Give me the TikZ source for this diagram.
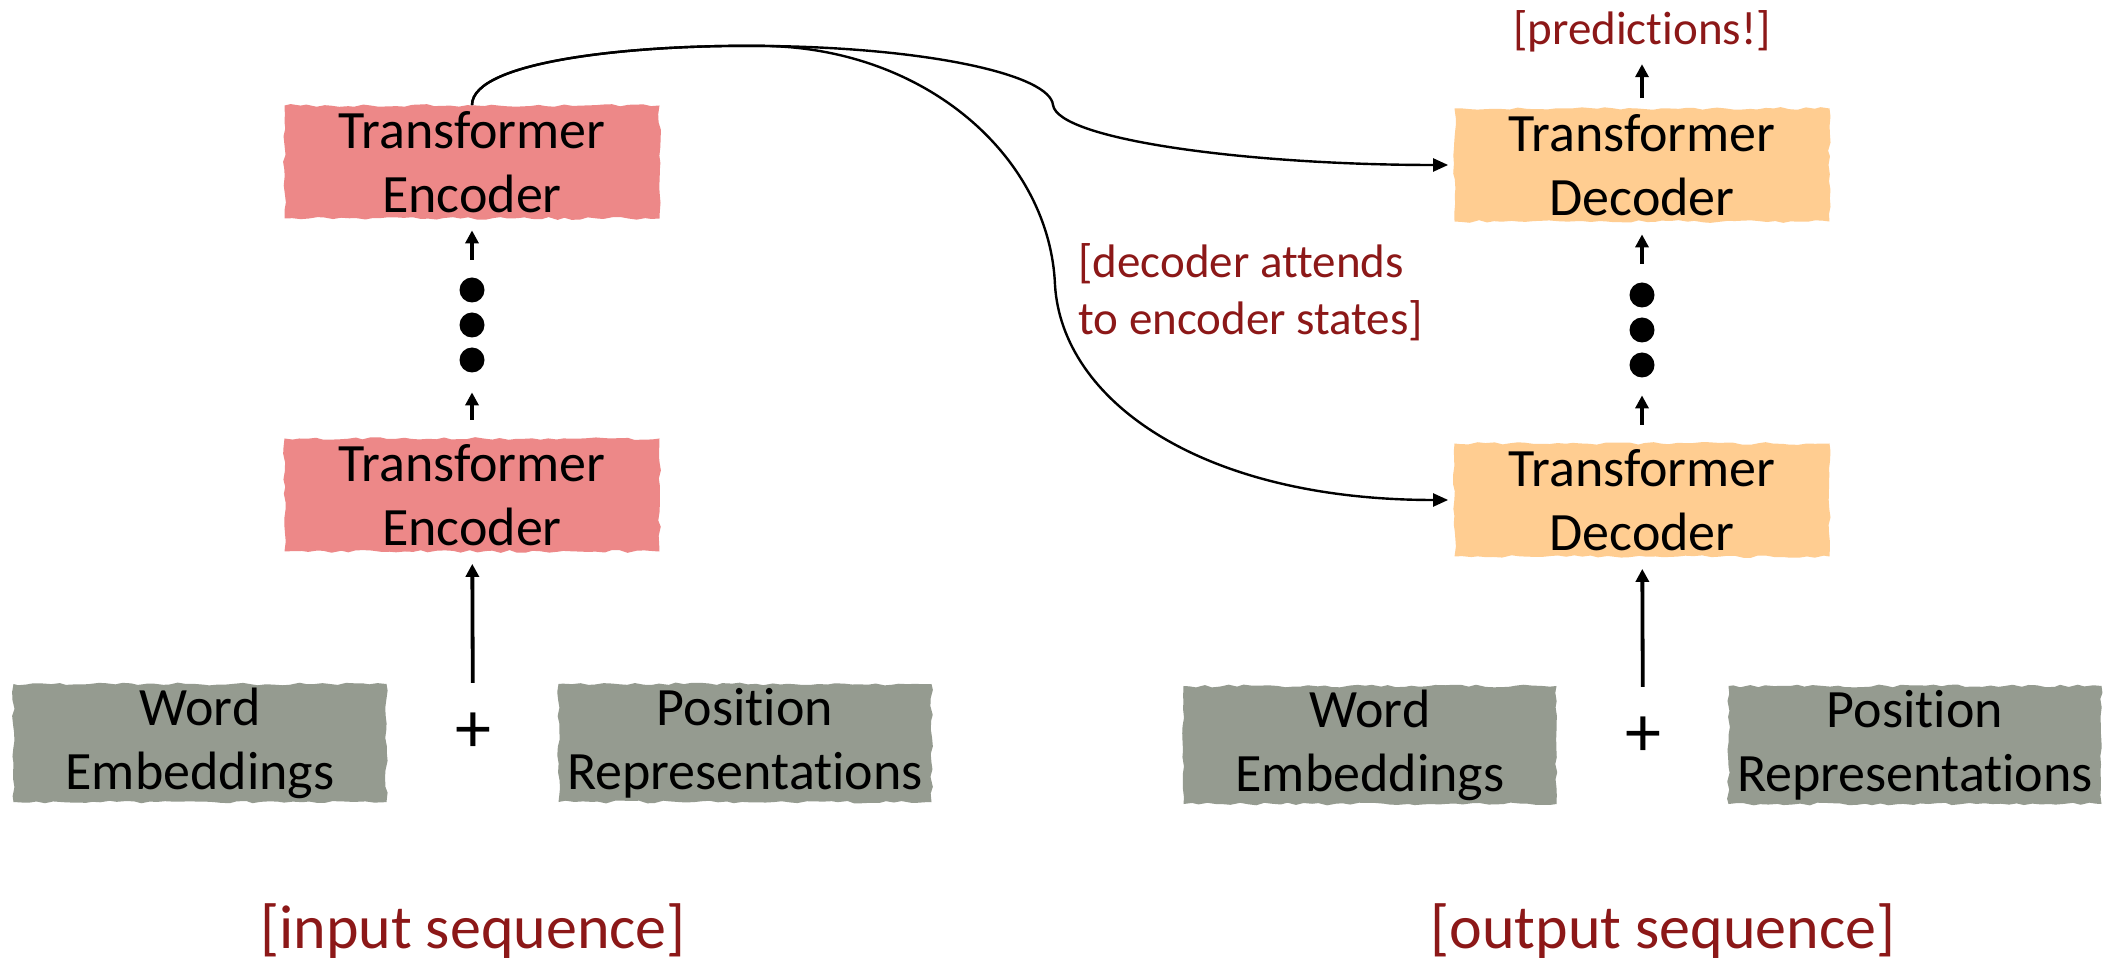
\documentclass[tikz,border=0pt]{standalone}
\usepackage{fontspec}
\setmainfont{Carlito}[Ligatures={NoCommon}]
\usetikzlibrary{arrows.meta,decorations.pathmorphing}
\definecolor{encred}{RGB}{237,136,136}
\definecolor{decorange}{RGB}{255,205,145}
\definecolor{embgray}{RGB}{149,155,144}
\definecolor{labred}{RGB}{140,24,24}
\begin{document}
\begin{tikzpicture}[x=0.5pt,y=-0.5pt,
  roughbox/.style={decorate,decoration={random steps,segment length=4pt,amplitude=0.7pt},
    inner sep=0pt,align=center,font=\fontsize{27}{32}\selectfont},
  blockbox/.style={roughbox,minimum width=187.5pt,minimum height=56.5pt},
  embbox/.style={roughbox,fill=embgray,minimum width=186.5pt,minimum height=59pt},
  dotnode/.style={circle,fill=black,inner sep=0pt,minimum size=12.5pt},
  plusnode/.style={inner sep=0pt,font=\fontsize{36}{40}\selectfont},
  redlabel/.style={text=labred,inner sep=0pt,font=\fontsize{23.5}{28.5}\selectfont},
  biglabel/.style={text=labred,inner sep=0pt,font=\fontsize{31}{37}\selectfont},
  smallarrow/.style={line width=1.9pt,-{Triangle[length=6.5pt,width=6.5pt]}},
  curvearrow/.style={line width=1.2pt,-{Triangle[length=7.5pt,width=6.5pt]}}
]
\pgfmathsetseed{7}
\useasboundingbox (0,0) rectangle (2117,962);
\fill[white] (0,0) rectangle (2117,962);

% encoder column
\node[blockbox,fill=encred] (Enc2) at (472,162) {Transformer\\Encoder};
\node[blockbox,fill=encred] (Enc1) at (472,495) {Transformer\\Encoder};
\node[dotnode] (e1) at (472,290) {};
\node[dotnode] (e2) at (472,325) {};
\node[dotnode] (e3) at (472,360) {};
\node[embbox] (W1) at (200,743) {Word\\Embeddings};
\node[embbox] (P1) at (745,743) {Position\\Representations};
\node[plusnode] (plus1) at (473,733) {+};
\node[biglabel] (inseq) at (473,931) {[input sequence]};

% decoder column
\node[blockbox,fill=decorange] (Dec2) at (1642,165) {Transformer\\Decoder};
\node[blockbox,fill=decorange] (Dec1) at (1642,500) {Transformer\\Decoder};
\node[dotnode] (d1) at (1642,295) {};
\node[dotnode] (d2) at (1642,330) {};
\node[dotnode] (d3) at (1642,365) {};
\node[embbox] (W2) at (1370,745) {Word\\Embeddings};
\node[embbox] (P2) at (1915,745) {Position\\Representations};
\node[plusnode] (plus2) at (1643,737) {+};
\node[biglabel] (outseq) at (1663,931) {[output sequence]};
\node[redlabel] (pred) at (1642,31) {[predictions!]};
\node[redlabel,align=left,anchor=west] (attn) at (1078,292) {[decoder attends\\to encoder states]};

% vertical arrows
\draw[smallarrow,shorten <=9.25pt,shorten >=9.75pt] (Enc1) -- (e3);
\draw[smallarrow,shorten <=8.75pt,shorten >=5.75pt] (e1) -- (Enc2);
\draw[smallarrow,shorten <=9.25pt,shorten >=8.75pt] (Dec1) -- (d3);
\draw[smallarrow,shorten <=9.25pt,shorten >=6.25pt] (d1) -- (Dec2);
\draw[smallarrow,shorten <=5pt,shorten >=6pt] (Dec2) -- (pred);
\draw[smallarrow,shorten <=15pt,shorten >=6pt] (plus1) -- (Enc1);
\draw[smallarrow,shorten <=15pt,shorten >=6pt] (plus2) -- (Dec1);

% attention curves
\coordinate (peak) at (768,46);
\coordinate (kink) at (1053,105);
\coordinate (bend) at (1055,285);
\draw[curvearrow,shorten >=3pt] (Enc2.north) .. controls (472,60) and (640,44) .. (peak)
  .. controls (930,48) and (1050,75) .. (kink)
  .. controls (1058,140) and (1250,165) .. (Dec2.west);
\draw[curvearrow,shorten >=3pt] (Enc2.north) .. controls (472,60) and (640,44) .. (peak)
  .. controls (930,50) and (1050,160) .. (bend)
  .. controls (1062,400) and (1200,500) .. (Dec1.west);
\end{tikzpicture}
\end{document}
